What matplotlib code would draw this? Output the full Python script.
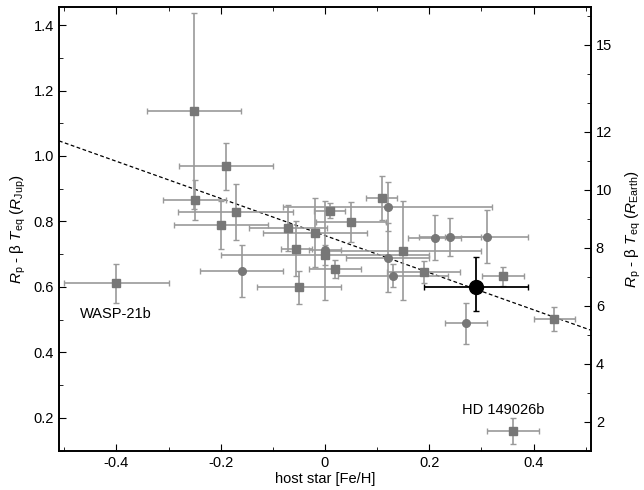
import matplotlib
matplotlib.use('Agg')
import matplotlib.pyplot as plt
import numpy as np

plt.rcParams['font.family'] = ['Liberation Sans', 'DejaVu Sans']
plt.rcParams['mathtext.fontset'] = 'custom'
plt.rcParams['mathtext.rm'] = 'Liberation Sans'
plt.rcParams['mathtext.it'] = 'Liberation Sans:italic'
plt.rcParams['mathtext.bf'] = 'Liberation Sans:bold'

# Square markers
sq_feh = [-0.251, -0.190, -0.250, -0.171, -0.199, -0.071, -0.019, -0.055, -0.050,
          0.0, 0.009, 0.050, 0.019, 0.109, 0.149, 0.189, 0.341, 0.440, 0.360, -0.400]
sq_feh_err = [0.09, 0.09, 0.06, 0.11, 0.09, 0.075, 0.10, 0.03, 0.08,
              0.20, 0.03, 0.067, 0.05, 0.03, 0.15, 0.07, 0.04, 0.04, 0.05, 0.10]
sq_r = [1.138, 0.969, 0.866, 0.829, 0.790, 0.781, 0.766, 0.717, 0.599,
        0.697, 0.833, 0.799, 0.654, 0.872, 0.711, 0.646, 0.632, 0.503, 0.160, 0.611]
sq_r_err = [0.30, 0.072, 0.06, 0.087, 0.074, 0.07, 0.106, 0.083, 0.05,
            0.03, 0.023, 0.062, 0.027, 0.068, 0.152, 0.034, 0.03, 0.037, 0.04, 0.06]

# Circle markers
ci_feh = [-0.160, 0.0, 0.120, 0.120, 0.130, 0.210, 0.240, 0.310, 0.270]
ci_feh_err = [0.08, 0.03, 0.20, 0.08, 0.105, 0.05, 0.06, 0.08, 0.04]
ci_r = [0.648, 0.712, 0.845, 0.690, 0.634, 0.751, 0.754, 0.754, 0.489]
ci_r_err = [0.08, 0.152, 0.075, 0.105, 0.035, 0.07, 0.058, 0.08, 0.062]

# highlighted planet
hl_feh = [0.29]
hl_feh_err = [0.10]
hl_r = [0.600]
hl_r_lo = [0.073]
hl_r_hi = [0.092]

# Linear fit
fit_a = 0.757
fit_b = -0.567

rjup_to_rearth = 11.2
right_ticks = [2, 4, 6, 8, 10, 12, 15]
right_minor = [1, 3, 5, 7, 9, 11, 13, 14, 16]

fig = plt.figure(figsize=(6.44, 4.9), dpi=100)
ax = fig.add_axes([0.0916, 0.0802, 0.8261, 0.9055])

xs = np.array([-0.51, 0.51])
ax.plot(xs, fit_a + fit_b * xs, linestyle=(0, (3, 2)), color='black', lw=0.9, zorder=1)

ax.errorbar(sq_feh, sq_r, xerr=sq_feh_err, yerr=sq_r_err, fmt='s', color='#777777',
            ecolor='#9a9a9a', elinewidth=1.2, capsize=2, capthick=1, markersize=5.5, zorder=3)
ax.errorbar(ci_feh, ci_r, xerr=ci_feh_err, yerr=ci_r_err, fmt='o', color='#777777',
            ecolor='#9a9a9a', elinewidth=1.2, capsize=2, capthick=1, markersize=5.5, zorder=3)
ax.errorbar(hl_feh, hl_r, xerr=hl_feh_err, yerr=[hl_r_lo, hl_r_hi], fmt='o', color='black',
            ecolor='black', elinewidth=1.3, capsize=2.5, capthick=1, markersize=10, zorder=4)

ax.text(-0.47, 0.518, 'WASP-21b', fontsize=10.5, va='center', ha='left')
ax.text(0.341, 0.225, 'HD 149026b', fontsize=10.5, va='center', ha='center')

ax.set_xlim(-0.51, 0.51)
ax.set_ylim(0.11, 1.455)
ax.set_xticks([-0.4, -0.2, 0, 0.2, 0.4])
ax.set_xticklabels(['-0.4', '-0.2', '0', '0.2', '0.4'])
ax.set_xticks(np.arange(-0.5, 0.51, 0.1), minor=True)
ax.set_yticks([0.2, 0.4, 0.6, 0.8, 1.0, 1.2, 1.4])
ax.set_yticks(np.arange(0.1, 1.45, 0.1), minor=True)
ax.tick_params(which='both', direction='in', top=True, labelsize=10.5)
ax.tick_params(which='major', length=5)
ax.tick_params(which='minor', length=3)
ax.set_xlabel('host star [Fe/H]', fontsize=10.5, labelpad=2)
ax.set_ylabel(r'$R_{\rm p}$ - β $T_{\rm eq}$ ($R_{\rm Jup}$)', fontsize=11, labelpad=4)

ax2 = ax.twinx()
ax2.set_ylim(ax.get_ylim())
ax2.set_yticks([t / rjup_to_rearth for t in right_ticks])
ax2.set_yticklabels([str(t) for t in right_ticks])
ax2.set_yticks([t / rjup_to_rearth for t in right_minor], minor=True)
ax2.tick_params(which='both', direction='in', labelsize=10.5)
ax2.tick_params(which='major', length=5)
ax2.tick_params(which='minor', length=3)
ax2.set_ylabel(r'$R_{\rm p}$ - β $T_{\rm eq}$ ($R_{\rm Earth}$)', fontsize=11, labelpad=8)

for sp in list(ax.spines.values()) + list(ax2.spines.values()):
    sp.set_linewidth(1.2)

fig.savefig('out.png', dpi=100)
